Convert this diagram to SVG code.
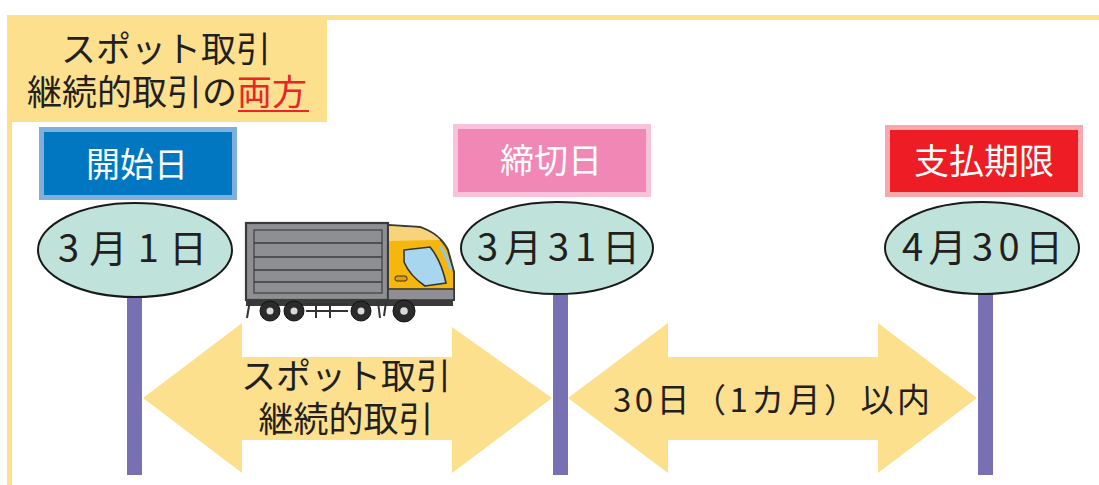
<svg xmlns="http://www.w3.org/2000/svg" width="1099" height="485" viewBox="0 0 1099 485">
  <defs>
    <style>
      .jp { font-family: "Noto Sans CJK JP", "Noto Sans", sans-serif; }
      .dark { fill: #231f20; }
      .white { fill: #ffffff; }
      .band { fill: #fde08e; }
      .date { fill: #bfe3db; stroke: #1a1a1a; stroke-width: 2; }
      .pole { fill: #7770b2; }
      .stripe { stroke: #3d3d3f; stroke-width: 1.6; fill: none; }
      .wheel { fill: #2b2b2b; stroke: #111; stroke-width: 1; }
      .hub { fill: #d9d9d9; }
    </style>
  </defs>

  <rect width="1099" height="485" fill="#ffffff"/>

  <!-- page frame: top rule and left rule -->
  <rect x="7" y="15" width="1092" height="5" class="band"/>
  <rect x="7" y="15" width="5" height="470" class="band"/>

  <!-- heading tab -->
  <g id="heading">
    <rect x="7" y="15" width="320" height="107" class="band"/>
    <text x="166" y="62" font-size="35" text-anchor="middle" class="jp dark">スポット取引</text>
    <text x="167" y="105" font-size="35" text-anchor="middle" class="jp dark">継続的取引の<tspan fill="#e8262a">両方</tspan></text>
    <line x1="238" y1="111" x2="309" y2="111" stroke="#e8262a" stroke-width="1.8"/>
  </g>

  <!-- connectors: date poles and span arrows -->
  <g id="connectors">
    <rect x="127" y="295" width="15" height="180" class="pole"/>
    <rect x="553" y="292" width="15" height="183" class="pole"/>
    <rect x="978" y="292" width="15" height="183" class="pole"/>
    <polygon class="band" points="143,398 242,323 242,357 452,357 452,327 552,398 452,473 452,440 242,440 242,473"/>
    <polygon class="band" points="568,398 668,323 668,357 878,357 878,323 977,398 878,473 878,440 668,440 668,473"/>
  </g>

  <g id="span-transaction">
    <text x="346" y="389" font-size="35" text-anchor="middle" class="jp dark">スポット取引</text>
    <text x="346" y="432" font-size="35" text-anchor="middle" class="jp dark">継続的取引</text>
  </g>

  <g id="span-payment">
    <text x="613" y="412" font-size="33" textLength="317" lengthAdjust="spacing" class="jp dark">30日（1カ月）以内</text>
  </g>

  <!-- start date -->
  <g id="start">
    <rect x="39" y="127" width="198" height="73" fill="#7fb0dc"/>
    <rect x="44" y="132" width="188" height="63" fill="#0077c0"/>
    <text x="137" y="177" font-size="34" text-anchor="middle" class="jp white">開始日</text>
  </g>
  <g id="start-date">
    <ellipse cx="135" cy="250" rx="97" ry="47" class="date"/>
    <text x="58" y="262" font-size="38" textLength="149" lengthAdjust="spacing" class="jp dark">3月1日</text>
  </g>

  <!-- closing date -->
  <g id="closing">
    <rect x="453" y="124" width="198" height="73" fill="#f8c3da"/>
    <rect x="458" y="129" width="188" height="63" fill="#f087b4"/>
    <text x="551" y="173" font-size="34" text-anchor="middle" class="jp white">締切日</text>
  </g>
  <g id="closing-date">
    <ellipse cx="557" cy="248" rx="96" ry="46" class="date"/>
    <text x="477" y="261" font-size="38" textLength="163" lengthAdjust="spacing" class="jp dark">3月31日</text>
  </g>

  <!-- payment deadline -->
  <g id="deadline">
    <rect x="885" y="125" width="198" height="72" fill="#f7a8ac"/>
    <rect x="890" y="130" width="188" height="62" fill="#ee1c25"/>
    <text x="984" y="174" font-size="35" text-anchor="middle" class="jp white">支払期限</text>
  </g>
  <g id="deadline-date">
    <ellipse cx="982" cy="248" rx="97" ry="46" class="date"/>
    <text x="902" y="261" font-size="38" textLength="161" lengthAdjust="spacing" class="jp dark">4月30日</text>
  </g>

  <!-- delivery truck -->
  <g id="truck">
    <!-- chassis -->
    <rect x="246" y="298" width="207" height="8" fill="#3a3a3a"/>
    <path d="M306,304 L348,304 M306,311 L348,311 M316,302 L316,318 M330,302 L330,318" stroke="#333" stroke-width="2" fill="none"/>
    <!-- cargo box -->
    <rect x="246" y="223" width="142" height="77" fill="#8e8f93" stroke="#3a3a3a" stroke-width="2.2"/>
    <rect x="254" y="230" width="128" height="63" fill="none" stroke="#4a4a4c" stroke-width="1.4"/>
    <path class="stripe" d="M254,243 L382,243 M254,257 L382,257 M254,270 L382,270 M254,282 L382,282"/>
    <!-- cab -->
    <path d="M388,225 L420,227 Q440,234 448,250 L454,272 L454,300 L388,300 Z" fill="#f5b70c" stroke="#3a3a3a" stroke-width="2"/>
    <path d="M389,226 L420,228 Q434,233 440,240 L389,241 Z" fill="#f7d37c"/>
    <path d="M404,250 L430,247 Q441,260 446,283 L425,286 Q410,276 404,262 Z" fill="#a7d6ee" stroke="#333" stroke-width="1.6"/>
    <path d="M440,246 Q447,256 451,270" stroke="#8fc7e4" stroke-width="3" fill="none"/>
    <rect x="395" y="276" width="12" height="5" rx="2" fill="#e0a000" stroke="#333" stroke-width="1"/>
    <rect x="388" y="289" width="66" height="11" fill="#8e8f93" stroke="#3a3a3a" stroke-width="1.6"/>
    <!-- wheels -->
    <circle cx="270" cy="311" r="10" class="wheel"/>
    <circle cx="270" cy="311" r="3.5" class="hub"/>
    <circle cx="294" cy="311" r="10" class="wheel"/>
    <circle cx="294" cy="311" r="3.5" class="hub"/>
    <circle cx="361" cy="311" r="10" class="wheel"/>
    <circle cx="361" cy="311" r="3.5" class="hub"/>
    <circle cx="404" cy="311" r="11" class="wheel"/>
    <circle cx="404" cy="311" r="3.8" class="hub"/>
    <path d="M250,300 L247,318 M378,302 L380,318 M386,302 L384,316" stroke="#333" stroke-width="2" fill="none"/>
  </g>
</svg>
